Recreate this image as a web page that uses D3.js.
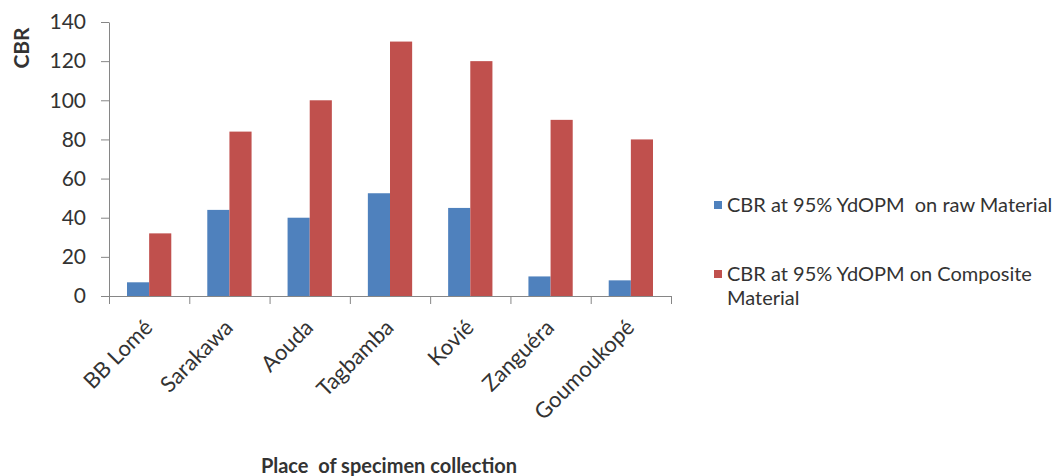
<!DOCTYPE html>
<html>
<head>
<meta charset="utf-8">
<script src="https://cdn.jsdelivr.net/npm/d3@7"></script>
<style>
  body { margin: 0; background: #fff; }
  text { font-family: Lato, "Open Sans", sans-serif; fill: #333; }
</style>
</head>
<body>
<div id="chart"></div>
<script>
// data
var places = ["BB Lomé", "Sarakawa", "Aouda", "Tagbamba", "Kovié", "Zanguéra", "Goumoukopé"];
var rawCBR = [7, 44, 40, 52.5, 45, 10, 8];
var compositeCBR = [32, 84, 100, 130, 120, 90, 80];
var seriesNames = ["CBR at 95% YdOPM  on raw Material", "CBR at 95% YdOPM on Composite Material"];
var yTicks = [0, 20, 40, 60, 80, 100, 120, 140];

var W = 1054, H = 476;
var plotLeft = 109, plotRight = 671, plotTop = 22, plotBottom = 296;
var colors = ["#4f81bd", "#c0504d"];

var svg = d3.select("#chart").append("svg")
  .attr("width", W)
  .attr("height", H);

var x = d3.scaleBand()
  .domain(places)
  .range([plotLeft, plotRight]);

var xs = d3.scaleBand()
  .domain([0, 1])
  .range([18, x.bandwidth() - 18]);

var y = d3.scaleLinear()
  .domain([0, 140])
  .range([plotBottom, plotTop]);

// bars
var series = [rawCBR, compositeCBR];
series.forEach(function(vals, s) {
  svg.append("g").selectAll("rect")
    .data(vals)
    .enter().append("rect")
    .attr("x", (d, i) => x(places[i]) + xs(s))
    .attr("width", xs.bandwidth())
    .attr("y", d => y(d))
    .attr("height", d => y(0) - y(d))
    .attr("fill", colors[s]);
});

// x axis: ticks at the category boundaries
var xIdx = d3.scaleLinear().domain([0, places.length]).range([plotLeft, plotRight]);
var gx = svg.append("g")
  .attr("transform", "translate(0," + plotBottom + ")")
  .call(d3.axisBottom(xIdx).ticks(places.length).tickSize(8).tickFormat(""));
gx.select(".domain").attr("stroke", "#868686");
gx.selectAll(".tick line").attr("stroke", "#868686");

// y axis
var gy = svg.append("g")
  .attr("transform", "translate(" + plotLeft + ",0)")
  .call(d3.axisLeft(y).tickValues(yTicks).tickSize(8).tickPadding(15).tickSizeOuter(0));
gy.select(".domain").attr("stroke", "#868686");
gy.selectAll(".tick line").attr("stroke", "#868686");
gy.selectAll(".tick text")
  .style("font-size", "21px")
  .attr("fill", "#333");

// rotated category labels
svg.append("g").selectAll("text")
  .data(places)
  .enter().append("text")
  .attr("transform", d => "translate(" + (x(d) + x.bandwidth() / 2 - 6) + "," + (plotBottom + 22) + ") rotate(-45)")
  .attr("text-anchor", "end")
  .attr("dy", "0.7em")
  .style("font-size", "22px")
  .text(d => d);

// axis titles
svg.append("text")
  .attr("transform", "translate(29,48) rotate(-90)")
  .attr("text-anchor", "middle")
  .style("font-size", "21px")
  .style("font-weight", "bold")
  .text("CBR");

svg.append("text")
  .attr("x", 389)
  .attr("y", 473)
  .attr("text-anchor", "middle")
  .style("font-size", "20px")
  .style("font-weight", "bold")
  .style("white-space", "pre")
  .text("Place  of specimen collection");

// legend
var legend = svg.append("g").attr("transform", "translate(714,0)");
legend.append("rect").attr("x", 0).attr("y", 201).attr("width", 8).attr("height", 8).attr("fill", colors[0]);
legend.append("text")
  .attr("x", 13).attr("y", 212)
  .style("font-size", "20px")
  .style("white-space", "pre")
  .text(seriesNames[0]);

legend.append("rect").attr("x", 0).attr("y", 270).attr("width", 8).attr("height", 8).attr("fill", colors[1]);
var t2 = legend.append("text")
  .attr("x", 13).attr("y", 281)
  .style("font-size", "20px");
t2.append("tspan").attr("x", 13).text("CBR at 95% YdOPM on Composite");
t2.append("tspan").attr("x", 13).attr("dy", 24).text("Material");
</script>
</body>
</html>
